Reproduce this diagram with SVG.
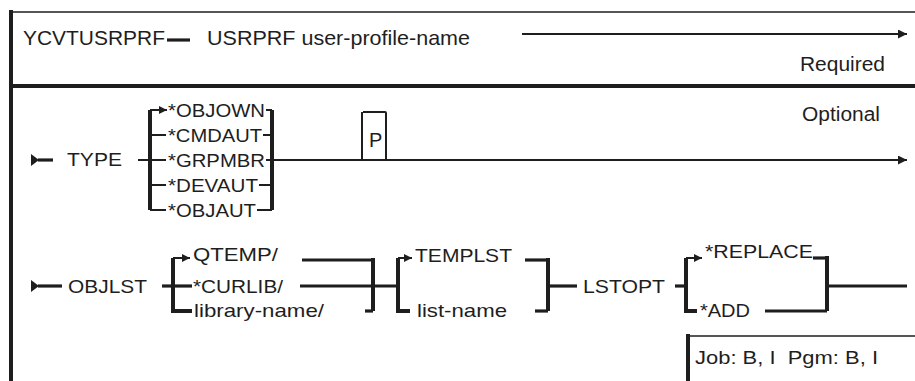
<svg xmlns="http://www.w3.org/2000/svg" width="915" height="381" viewBox="0 0 915 381">
<style>
.t{font-family:"Liberation Sans",Arial,sans-serif;font-size:19px;fill:#1e1e1e}
.big{font-size:21px}
.mid{font-size:20px}
.ln{stroke:#1e1e1e;fill:none;stroke-width:2}
.th{stroke-width:3.2}
.br{stroke-width:4}
.fr{stroke:#1e1e1e;fill:none}
</style>
<defs>
<marker id="ah" viewBox="0 0 10 10" refX="10" refY="5" markerWidth="11" markerHeight="9" orient="auto" markerUnits="userSpaceOnUse"><path d="M0,0 L10,5 L0,10 z" fill="#1e1e1e"/></marker>
<marker id="as" viewBox="0 0 10 10" refX="10" refY="5" markerWidth="8" markerHeight="9" orient="auto" markerUnits="userSpaceOnUse"><path d="M0,0 L10,5 L0,10 z" fill="#1e1e1e"/></marker>
</defs>
<rect width="915" height="381" fill="#fff"/>
<g id="frame">
<path class="fr" d="M9,12 H915" stroke-width="1.5"/>
<path class="fr" d="M11,10 V381" stroke-width="4"/>
<path class="fr" d="M9,86 H915" stroke-width="4"/>
<path class="fr" d="M687,336 H915" stroke-width="1.5"/>
<path class="fr" d="M688,334 V381" stroke-width="4"/>
</g>
<g id="connectors">
<path class="ln th" d="M167,40 H190"/>
<path class="ln" d="M522,34 H907" stroke-width="1.8" marker-end="url(#ah)"/>
<polygon points="31,154 39,160 31,166" fill="#1e1e1e"/>
<path class="ln th" d="M38,160 H53"/>
<path class="ln" d="M138,160 H150"/>
<path class="ln br" d="M150,110 V210" stroke-width="3.5"/>
<path class="ln" d="M150,110 H167" marker-end="url(#as)"/>
<path class="ln" d="M150,135 H166 M150,160 H166 M150,185 H166 M150,210 H166"/>
<path class="ln" d="M266,110 H272 M263,135 H272 M259,185 H272 M257,210 H272"/>
<path class="ln br" d="M272,110 V210" stroke-width="3.5"/>
<path class="ln" d="M266,160 H907" marker-end="url(#ah)"/>
<path class="ln" d="M386,160 V113 Q386,112 385,112 H363" stroke-width="1.5"/>
<path class="ln" d="M362,160 V112" stroke-width="3"/>
<polygon points="31,280 39,286 31,292" fill="#1e1e1e"/>
<path class="ln th" d="M38,286 H62"/>
<path class="ln th" d="M162,286 H192"/>
<path class="ln br" d="M192,311 H173 V258"/>
<path class="ln" d="M173,258 H190" stroke-width="2.5" marker-end="url(#as)"/>
<path class="ln th" d="M300,286 H398"/>
<path class="ln th" d="M302,260 H373"/>
<path class="ln br" d="M373,258 V311"/>
<path class="ln th" d="M365,311 H373"/>
<path class="ln br" d="M410,311 H398 V258"/>
<path class="ln" d="M398,258 H412" stroke-width="2.5" marker-end="url(#as)"/>
<path class="ln th" d="M525,260 H548"/>
<path class="ln br" d="M548,258 V311"/>
<path class="ln th" d="M535,311 H548"/>
<path class="ln th" d="M548,286 H577"/>
<path class="ln th" d="M675,286 H686"/>
<path class="ln br" d="M697,311 H686 V258"/>
<path class="ln" d="M686,258 H702" stroke-width="2.5" marker-end="url(#as)"/>
<path class="ln th" d="M813,258 H827"/>
<path class="ln br" d="M827,256 V311"/>
<path class="ln th" d="M765,311 H827"/>
<path class="ln th" d="M827,286 H907"/>
</g>
<g id="cmd"><text class="t big" x="23" y="45" textLength="142" lengthAdjust="spacingAndGlyphs">YCVTUSRPRF</text></g>
<g id="usrprf"><text class="t big" x="207" y="45" textLength="263" lengthAdjust="spacingAndGlyphs">USRPRF user-profile-name</text></g>
<g id="required"><text class="t mid" x="800" y="71" textLength="85" lengthAdjust="spacingAndGlyphs">Required</text></g>
<g id="optional"><text class="t mid" x="802" y="121" textLength="78" lengthAdjust="spacingAndGlyphs">Optional</text></g>
<g id="type"><text class="t" x="67" y="166" textLength="55" lengthAdjust="spacingAndGlyphs">TYPE</text></g>
<g id="objown"><text class="t" x="168" y="117" textLength="97" lengthAdjust="spacingAndGlyphs">*OBJOWN</text></g>
<g id="cmdaut"><text class="t" x="168" y="142" textLength="94" lengthAdjust="spacingAndGlyphs">*CMDAUT</text></g>
<g id="grpmbr"><text class="t" x="168" y="167" textLength="97" lengthAdjust="spacingAndGlyphs">*GRPMBR</text></g>
<g id="devaut"><text class="t" x="168" y="192" textLength="90" lengthAdjust="spacingAndGlyphs">*DEVAUT</text></g>
<g id="objaut"><text class="t" x="168" y="217" textLength="88" lengthAdjust="spacingAndGlyphs">*OBJAUT</text></g>
<g id="pbox"><text class="t mid" x="369" y="147">P</text></g>
<g id="objlst"><text class="t" x="68" y="293" textLength="79" lengthAdjust="spacingAndGlyphs">OBJLST</text></g>
<g id="qtemp"><text class="t" x="193" y="261" textLength="85" lengthAdjust="spacingAndGlyphs">QTEMP/</text></g>
<g id="curlib"><text class="t" x="193" y="293" textLength="90" lengthAdjust="spacingAndGlyphs">*CURLIB/</text></g>
<g id="libname"><text class="t" x="194" y="317" textLength="130" lengthAdjust="spacingAndGlyphs">library-name/</text></g>
<g id="templst"><text class="t" x="415" y="262" textLength="97" lengthAdjust="spacingAndGlyphs">TEMPLST</text></g>
<g id="listname"><text class="t" x="417" y="317" textLength="90" lengthAdjust="spacingAndGlyphs">list-name</text></g>
<g id="lstopt"><text class="t" x="583" y="293" textLength="82" lengthAdjust="spacingAndGlyphs">LSTOPT</text></g>
<g id="replace"><text class="t" x="705" y="258" textLength="108" lengthAdjust="spacingAndGlyphs">*REPLACE</text></g>
<g id="add"><text class="t" x="700" y="317" textLength="50" lengthAdjust="spacingAndGlyphs">*ADD</text></g>
<g id="jobpgm"><text class="t" x="695" y="364" xml:space="preserve" textLength="183" lengthAdjust="spacingAndGlyphs">Job: B, I  Pgm: B, I</text></g>
</svg>
